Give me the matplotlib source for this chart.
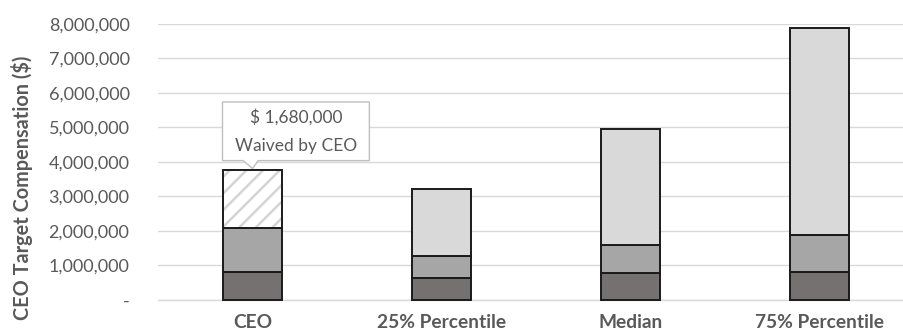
import matplotlib
matplotlib.use("Agg")
import matplotlib.pyplot as plt
from matplotlib.patches import Polygon
from matplotlib.ticker import FuncFormatter
import numpy as np

plt.rcParams['font.family'] = ['Lato', 'DejaVu Sans']
plt.rcParams['hatch.linewidth'] = 1.8

categories = ["CEO", "25% Percentile", "Median", "75% Percentile"]
base_pay = [820000, 630000, 770000, 820000]
mid_pay = [1280000, 650000, 830000, 1050000]
upper_pay = [0, 1940000, 3350000, 6000000]
waived = [1680000, 0, 0, 0]
callout_lines = ["$ 1,680,000", "Waived by CEO"]

text_grey = "#595959"
grid_grey = "#d9d9d9"

fig = plt.figure(figsize=(9.04, 3.35), dpi=100)
ax = fig.add_axes([0.1748, 0.1045, 0.8252, 0.8239])

x = np.arange(len(categories))
width = 0.315
edge = dict(edgecolor="#1a1a1a", linewidth=1.4, zorder=3, clip_on=False)

b0 = np.zeros(len(categories))
ax.bar(x, base_pay, width, bottom=b0, color="#767171", **edge)
b1 = b0 + np.array(base_pay)
ax.bar(x, mid_pay, width, bottom=b1, color="#a6a6a6", **edge)
b2 = b1 + np.array(mid_pay)
mask = np.array(upper_pay) > 0
ax.bar(x[mask], np.array(upper_pay)[mask], width, bottom=b2[mask], color="#d9d9d9", **edge)
b3 = b2 + np.array(upper_pay)

# waived portion: light diagonal hatch, then a dark outline on top
wmask = np.array(waived) > 0
wx = x[wmask]
wh = np.array(waived)[wmask]
wb = b3[wmask]
ax.bar(wx, wh, width, bottom=wb, color="white", edgecolor="#d4d4d4", linewidth=0,
       hatch="//", zorder=3, clip_on=False)
ax.bar(wx, wh, width, bottom=wb, fill=False, edgecolor="#1a1a1a", linewidth=1.4,
       zorder=4, clip_on=False)

# callout box with pointer to the top of the waived segment
tip_x = x[0]
tip_y = b3[0] + waived[0]
bx0, bx1 = tip_x - 0.159, tip_x + 0.618
by0, by1 = tip_y + 0.26e6, tip_y + 1.96e6
pl, pr = tip_x - 0.05, tip_x + 0.03
callout = Polygon([(bx0, by0), (pl, by0), (tip_x, tip_y + 0.03e6), (pr, by0), (bx1, by0),
                   (bx1, by1), (bx0, by1)], closed=True, facecolor="white",
                  edgecolor="#bfbfbf", linewidth=1.0, zorder=5)
ax.add_patch(callout)
cx = (bx0 + bx1) / 2
ax.text(cx, by1 - 0.45e6, callout_lines[0], ha="center", va="center", fontsize=12.5,
        color=text_grey, zorder=6)
ax.text(cx, by0 + 0.43e6, callout_lines[1], ha="center", va="center", fontsize=12.5,
        color=text_grey, zorder=6)

ax.set_xlim(-0.5, 3.446)
ax.set_ylim(0, 8000000)
ax.set_yticks(np.arange(0, 8000001, 1000000))
ax.yaxis.set_major_formatter(FuncFormatter(lambda v, p: "-" if v == 0 else f"{int(v):,}"))
ax.set_xticks(x)
ax.set_xticklabels(categories, fontweight="bold", fontsize=13.8)
ax.grid(axis="y", color=grid_grey, linewidth=1.0, zorder=0)
ax.set_axisbelow(True)
for s in ["top", "right", "left"]:
    ax.spines[s].set_visible(False)
ax.spines["bottom"].set_color(grid_grey)
ax.spines["bottom"].set_linewidth(1.0)
ax.tick_params(axis="both", length=0, colors=text_grey)
ax.tick_params(axis="y", pad=20.5, labelsize=13)
ax.tick_params(axis="x", pad=10)
for lab in ax.get_yticklabels() + ax.get_xticklabels():
    lab.set_color(text_grey)

ax.set_ylabel("CEO Target Compensation ($)", fontsize=14.3, fontweight="bold",
              color=text_grey, labelpad=10)
ax.yaxis.set_label_coords(-0.167, 0.405)

fig.savefig("out.png", dpi=100)
